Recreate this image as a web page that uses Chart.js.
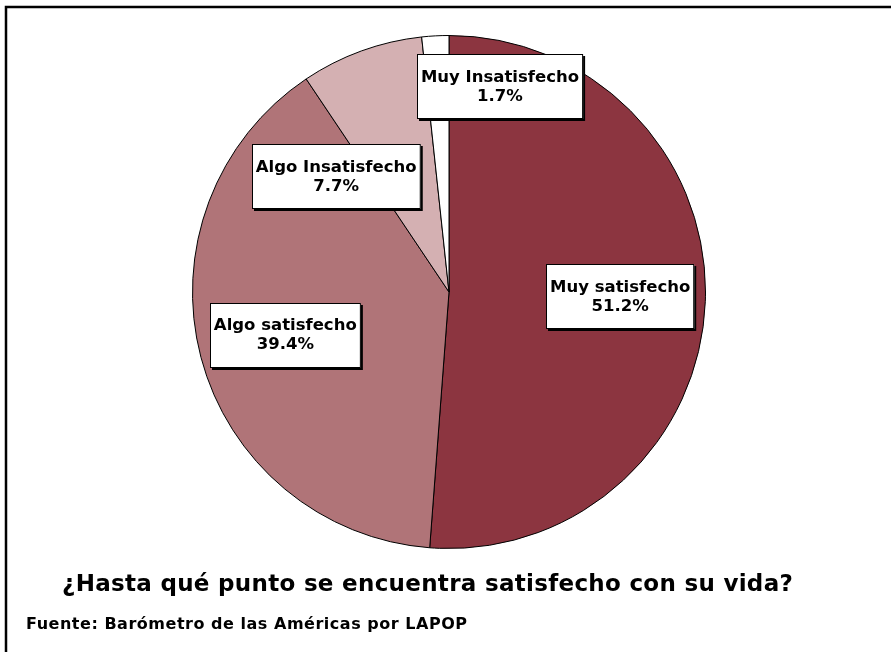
<!DOCTYPE html>
<html>
<head>
<meta charset="utf-8">
<script src="https://cdn.jsdelivr.net/npm/chart.js@4.4.1/dist/chart.umd.min.js"></script>
<style>
  html, body { margin: 0; padding: 0; background: #fff; }
  #wrap { width: 891px; height: 652px; position: relative; }
</style>
</head>
<body>
<div id="wrap"><canvas id="pieChart" width="891" height="652"></canvas></div>
<script>
// Satisfaccion con la vida
const categories = ['Muy satisfecho', 'Algo satisfecho', 'Algo Insatisfecho', 'Muy Insatisfecho'];
const percentages = [51.2, 39.4, 7.7, 1.7];
const sliceColors = ['#8c3540', '#b07478', '#d4b0b2', '#ffffff'];

const chartTitle = '¿Hasta qué punto se encuentra satisfecho con su vida?';
const sourceNote = 'Fuente: Barómetro de las Américas por LAPOP';

// label placement: fraction of radius along slice middle, plus nudge (px)
const labelPlace = [
    { frac: 0.66, dx: 2, dy: -2 },
    { frac: 0.66, dx: 0, dy: 0 },
    { frac: 0.66, dx: -55, dy: 44 },
    { frac: 0.66, dx: 60, dy: -36 }
];

const FONT = '"DejaVu Sans", "Liberation Sans", Arial, sans-serif';

// draw text stretched with letter spacing to a given width
function spacedText(ctx, text, x, y, width) {
    ctx.letterSpacing = '0px';
    const w = ctx.measureText(text).width;
    const gap = (width - w) / (text.length - 1);
    ctx.letterSpacing = gap.toFixed(2) + 'px';
    ctx.fillText(text, x, y);
}

const boxLabels = {
    id: 'boxLabels',
    afterDatasetsDraw(chart) {
        const ctx = chart.ctx;
        const arcs = chart.getDatasetMeta(0).data;
        ctx.save();
        ctx.font = 'bold 16.5px ' + FONT;
        ctx.letterSpacing = '0px';
        ctx.textAlign = 'center';
        ctx.textBaseline = 'middle';
        arcs.forEach((arc, i) => {
            const mid = (arc.startAngle + arc.endAngle) / 2;
            const p = labelPlace[i];
            const cx = arc.x + Math.cos(mid) * arc.outerRadius * p.frac + p.dx;
            const cy = arc.y + Math.sin(mid) * arc.outerRadius * p.frac + p.dy;
            const lines = [categories[i], percentages[i].toFixed(1) + '%'];
            const w = Math.max(...lines.map(l => ctx.measureText(l).width)) + 8;
            const h = 65;
            const x = Math.round(cx - w / 2), y = Math.round(cy - h / 2);
            ctx.fillStyle = '#000';
            ctx.fillRect(x + 2, y + 2, w, h);
            ctx.fillStyle = '#fff';
            ctx.fillRect(x, y, w, h);
            ctx.strokeStyle = '#000';
            ctx.lineWidth = 1;
            ctx.strokeRect(x + 0.5, y + 0.5, w - 1, h - 1);
            ctx.fillStyle = '#000';
            ctx.fillText(lines[0], cx, cy - 9);
            ctx.fillText(lines[1], cx, cy + 10);
        });
        ctx.restore();
    }
};

const frameAndText = {
    id: 'frameAndText',
    afterDraw(chart) {
        const ctx = chart.ctx;
        ctx.save();
        ctx.strokeStyle = '#000';
        ctx.lineWidth = 2.5;
        ctx.beginPath();
        ctx.moveTo(6, 660);
        ctx.lineTo(6, 7);
        ctx.lineTo(900, 7);
        ctx.stroke();

        ctx.fillStyle = '#000';
        ctx.textAlign = 'left';
        ctx.textBaseline = 'alphabetic';
        ctx.font = 'bold 23px ' + FONT;
        spacedText(ctx, chartTitle, 62, 591, 731);
        ctx.font = 'bold 16px ' + FONT;
        spacedText(ctx, sourceNote, 26, 629, 441);
        ctx.restore();
    }
};

const ctxPie = document.getElementById('pieChart').getContext('2d');
const pieChart = new Chart(ctxPie, {
    type: 'pie',
    data: {
        labels: categories,
        datasets: [{
            data: percentages,
            backgroundColor: sliceColors,
            borderColor: '#000',
            borderWidth: 1,
            hoverOffset: 0
        }]
    },
    options: {
        responsive: false,
        animation: false,
        layout: { padding: { left: 192, right: 185, top: 35, bottom: 103 } },
        plugins: {
            legend: { display: false },
            tooltip: { enabled: false }
        }
    },
    plugins: [boxLabels, frameAndText]
});
</script>
</body>
</html>
